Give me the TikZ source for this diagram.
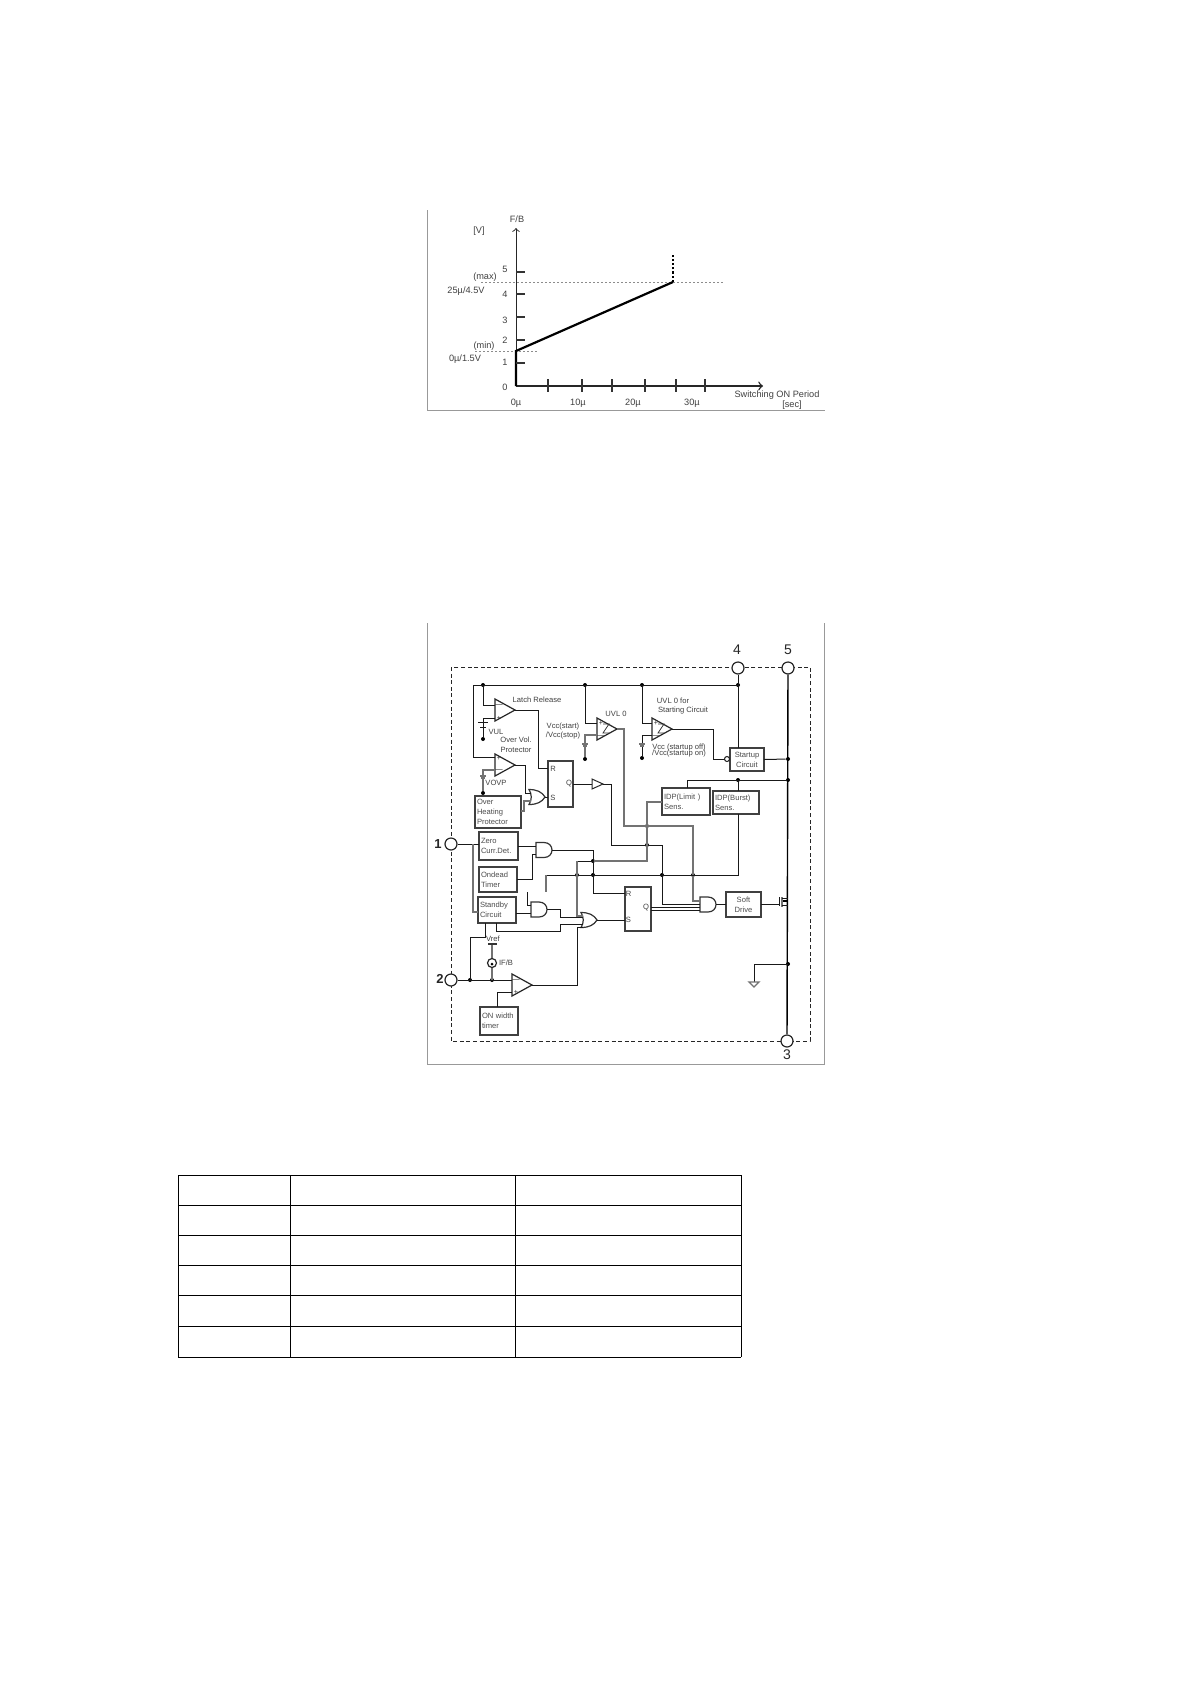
\documentclass[tikz,border=0pt]{standalone}
\usepackage{fontspec}
\setmainfont{Liberation Sans}
\usetikzlibrary{arrows}
\usetikzlibrary{shapes.geometric}

\begin{document}
\begin{tikzpicture}[x=.5pt,y=-.5pt,>=to,
                    wire/.style={line width=.5pt,black!90},
                    gwire/.style={line width=.65pt,black!55},
                    framed/.style={line width=.5pt,black!40},
                    lbl/.style={font=\fontsize{4.6}{5.4}\selectfont,text=black!75,inner sep=0pt},
                    tiny/.style={font=\fontsize{3.8}{5}\selectfont,text=black!75,inner sep=0pt,align=left},
                    pinnum/.style={font=\fontsize{7}{8}\selectfont,text=black!85,inner sep=0pt},
                    andgate/.pic={
                      \draw[line width=.6pt,black!80] (-16,-7.5) -- (-8,-7.5) .. controls (-3,-7.5) and (0,-4) .. (0,0)
                        .. controls (0,4) and (-3,7.5) .. (-8,7.5) -- (-16,7.5) -- cycle;
                      \coordinate (-in1) at (-16,-4);
                      \coordinate (-in2) at (-16,4);
                      \coordinate (-west) at (-16,0);
                      \coordinate (-out) at (0,0);},
                    orgate/.pic={
                      \draw[line width=.6pt,black!80] (-16,-7.5) .. controls (-8,-7.5) and (-3,-5) .. (0,0)
                        .. controls (-3,5) and (-8,7.5) .. (-16,7.5) .. controls (-13,3) and (-13,-3) .. (-16,-7.5) -- cycle;
                      \coordinate (-in1) at (-14.5,-4);
                      \coordinate (-in2) at (-14.5,4);
                      \coordinate (-west) at (-13.7,0);
                      \coordinate (-out) at (0,0);}]
  \tikzstyle{block}=[draw=black!75,line width=.7pt,rectangle,inner sep=1pt,outer sep=0pt,
                     align=left,font=\fontsize{3.8}{5}\selectfont,text=black!70]
  \tikzstyle{comp}=[draw=black!85,line width=.6pt,isosceles triangle,isosceles triangle stretches,
                    minimum width=11pt,minimum height=10pt,inner sep=0pt,outer sep=0pt,anchor=apex]
  \tikzstyle{pinc}=[draw=black!85,fill=white,line width=.6pt,circle,inner sep=0pt,minimum size=6pt]
  \tikzstyle{dot}=[fill=black,circle,inner sep=0pt,minimum size=2pt]

  \useasboundingbox (0,0) rectangle (1190,1682);
  \fill[white] (0,0) rectangle (1190,1682);

  % graph
  \coordinate (gfTL) at (427,210);
  \coordinate (gfBR) at (825,410);
  \draw[framed] (gfTL) |- (gfBR);

  \coordinate (orig) at (516,386);
  \coordinate (ytop) at (516,228);
  \coordinate (xend) at (763,386);
  \coordinate (cmin) at (516,351);
  \coordinate (cmax) at (673,282);
  \coordinate (ctop) at (673,253);
  \coordinate (hmaxL) at (481,282);
  \coordinate (hmaxR) at (725,282);
  \coordinate (hminL) at (475,351.5);
  \coordinate (hminR) at (537,351.5);
  \draw[->,line width=.45pt,black!85] (cmin) -- (ytop);
  \draw[->,line width=.7pt,black!85] (orig) -- (xend);
  \draw[dash pattern=on 1pt off 1pt,line width=.25pt,black!45] (hmaxL) -- (hmaxR);
  \draw[dash pattern=on 1pt off 1pt,line width=.25pt,black!45] (hminL) -- (hminR);
  \draw[line width=1.1pt] (orig) -- (cmin) -- (cmax);
  \draw[line width=1.1pt,densely dotted] (cmax) -- (ctop);
  \foreach \ty in {272,294,317,340,363} \draw[line width=.6pt,black!80] (516,\ty) -- (525,\ty);
  \foreach \tx in {548,582,612,645,676,705} \draw[line width=.6pt,black!80] (\tx,379) -- (\tx,392);

  \node[lbl] (fb)   at (517,219) {F/B};
  \node[lbl] (unit) at (479,231) {[V]};
  \foreach \nm/\ny in {5/269,4/294,3/320,2/340,1/362,0/387} \node[lbl] (y\nm) at (505,\ny) {\nm};
  \node[lbl] (hmax) at (485,277) {(max)};
  \node[lbl] (vmax) at (466,291) {25µ/4.5V};
  \node[lbl] (hmin) at (484,346) {(min)};
  \node[lbl] (vmin) at (465,359) {0µ/1.5V};
  \foreach \nm/\nx in {0/516,10/578,20/633,30/692} \node[lbl] (x\nm) at (\nx,403) {\nm µ};
  \node[lbl] (xname) at (777,395) {Switching ON Period};
  \node[lbl] (xunit) at (792,405) {[sec]};

  % block diagram, frame and dashed outline
  \coordinate (bfTL) at (427,623);
  \coordinate (bfBR) at (824,1064);
  \coordinate (bfTR) at (824,623);
  \draw[framed] (bfTL) |- (bfBR) -- (bfTR);
  \draw[dash pattern=on 2pt off 1.3pt,line width=.45pt,black!85] (451,667) rectangle (810,1041);

  \node[pinc] (pin4) at (738,668) {};
  \node[pinc] (pin5) at (788,668) {};
  \node[pinc] (pin1) at (451,844) {};
  \node[pinc] (pin2) at (451,980) {};
  \node[pinc] (pin3) at (787,1041) {};
  \node[pinnum] (num4) at (737,650) {4};
  \node[pinnum] (num5) at (788,650) {5};
  \node[pinnum,font=\fontsize{6.5}{8}\bfseries] (num1) at (438,844) {1};
  \node[pinnum,font=\fontsize{6.5}{8}\bfseries] (num2) at (440,979) {2};
  \node[pinnum] (num3) at (787,1055) {3};

  % blocks
  \node[block,minimum width=23pt,minimum height=16pt,text width=21pt]     (heat)    at (498,812)     {Over\\Heating\\Protector};
  \node[block,minimum width=19.5pt,minimum height=14pt,text width=17.5pt] (zero)    at (498.5,846)   {Zero\\Curr.Det.};
  \node[block,minimum width=19pt,minimum height=12.5pt,text width=17pt]   (ondead)  at (498,879.5)   {Ondead\\Timer};
  \node[block,minimum width=19pt,minimum height=13pt,text width=17pt]     (standby) at (497,910)     {Standby\\Circuit};
  \node[block,minimum width=19pt,minimum height=14pt,text width=17pt]     (onwidth) at (499,1021)    {ON width\\timer};
  \node[block,minimum width=17pt,minimum height=11.5pt,align=center]      (startup) at (747,759.5)   {Startup\\Circuit};
  \node[block,minimum width=24pt,minimum height=13.5pt,text width=22pt]   (limit)   at (686,801.5)   {IDP(Limit )\\Sens.};
  \node[block,minimum width=23pt,minimum height=11.5pt,text width=21pt]   (burst)   at (736,802.5)   {IDP(Burst)\\Sens.};
  \node[block,minimum width=17.5pt,minimum height=12.5pt,align=center]    (soft)    at (743.5,904.5) {Soft\\Drive};
  \node[block,minimum width=12.5pt,minimum height=23pt]                   (ffa)     at (560.5,784)   {};
  \node[block,minimum width=13pt,minimum height=22pt]                     (ffb)     at (638,909)     {};
  \node[tiny] (ffaR) at (553,769) {R};
  \node[tiny] (ffaS) at (553,798) {S};
  \node[tiny] (ffaQ) at (569,784) {Q};
  \node[tiny] (ffbR) at (628.5,894) {R};
  \node[tiny] (ffbS) at (628.5,920) {S};
  \node[tiny] (ffbQ) at (646,908) {Q};

  % comparators and gates
  \node[comp] (latch) at (515,710) {};
  \node[comp] (ovp)   at (515,765) {};
  \node[comp] (uvl)   at (617,729) {};
  \node[comp] (uvs)   at (672,729) {};
  \node[comp] (fbc)   at (532,985) {};
  \node[comp,minimum width=5pt,minimum height=5.5pt,line width=.5pt] (buf) at (603,784) {};
  \pic (ora)  at (545,797)   {orgate};
  \pic (orb)  at (597,920)   {orgate};
  \pic (anda) at (552,850)   {andgate};
  \pic (andb) at (547,909.5) {andgate};
  \pic (andc) at (716,904.5) {andgate};

  \foreach \sx/\sy/\st in {499/705/$-$,499/718/+,499/758/+,499/770/$-$,601/723/+,601/736/$-$,656/723/+,656/736/$-$,516/980/$-$,516/992/+}
    \node[font=\fontsize{3.5}{4}\selectfont,inner sep=0pt,text=black!80] at (\sx,\sy) {\st};
  \foreach \hx in {606,661} \draw[line width=.4pt,black!80] (\hx-3,724) -- (\hx+3,724) -- (\hx-3,733) -- (\hx+3,733);

  % junctions
  \node[dot] (ja) at (483,685) {};
  \node[dot] (jb) at (585,685) {};
  \node[dot] (jc) at (642,685) {};
  \node[dot] (jd) at (738,685) {};
  \node[dot] (je) at (788,759) {};
  \node[dot] (jf) at (738,780) {};
  \node[dot] (jg) at (788,780) {};
  \node[dot] (jh) at (788,964) {};
  \node[dot] (ji) at (647,826) {};
  \node[dot] (jj) at (647,845) {};
  \node[dot] (jk) at (593,861) {};
  \node[dot] (jl) at (577,875) {};
  \node[dot] (jm) at (593,875) {};
  \node[dot] (jn) at (662,875) {};
  \node[dot] (jo) at (693,875) {};
  \node[dot] (jp) at (470,980) {};
  \node[dot] (jq) at (492,980) {};
  \node[dot] (jr) at (483,739) {};
  \node[dot] (js) at (483,793) {};
  \node[dot] (jt) at (585,759) {};
  \node[dot] (ju) at (642,758) {};

  % wires of the upper half
  \coordinate (railL) at (473,685);
  \draw[wire] (495,757) -| (railL) -- (jd.center) -- (pin4);
  \draw[wire] (jd) -- (startup.north -| jd);
  \draw[line width=.7pt] (pin5) -- (pin3);
  \draw[wire] (495,705) -| (ja);
  \draw[wire] (495,718) -| (jr);
  \draw[gwire] (495,770) -| (js);
  \draw[wire] (597,723) -| (jb);
  \draw[gwire] (597,735) -| (jt);
  \draw[wire] (652,723) -| (jc);
  \draw[wire] (652,735) -| (ju);
  \draw[wire] (latch.apex) -| (538,768) -- (548,768);
  \draw[wire] (ovp.apex) -| (525,793) -- (ora-in1);
  \draw[gwire] (heat.east |- 0,811) -| (524,801) -- (ora-in2);
  \draw[wire] (ora-out) -- (548,797);
  \draw[wire] (ffa.east) -- (buf.lower side);
  \draw[wire] (buf.apex) -| (611,845) -- (jj.center) -| (662,904) -- (andc-west |- 0,904);
  \draw[gwire] (uvl.apex) -| (624,826) -- (ji.center) -- (693,826) -- (jo.center) |- (andc-west |- 0,901);
  \draw[wire] (uvs.apex) -| (713,759) -- (724.5,759);
  \draw[wire,fill=white,line width=.5pt] (727,759) circle[radius=2.5];
  \draw[wire] (startup.east) -- (je);
  \draw[wire] (limit.north -| 687,0) |- (jf.center) -- (jg);
  \draw[wire] (jf) -- (burst.north -| jf);
  \draw[wire] (burst.south -| 738,0) |- (jn.center) -- (jm.center);
  \draw[wire] (jm.center) -- (jl.center) -- (546,875);
  \draw[gwire] (546,875) -- (546,892);
  \draw[wire] (jn.center) -- (jo.center);
  \draw[gwire] (limit.west |- 0,802) -| (ji.center) -- (jj.center);
  \draw[gwire] (jj.center) |- (jk.center);
  \draw[wire] (jk.center) -- (577,861);
  \draw[gwire] (577,861) -- (jl.center) |- (orb-in1);

  % wires of the lower half
  \draw[wire] (pin1) -- (zero.west |- pin1);
  \draw[gwire] (473,844) |- (standby.west |- 0,912);
  \draw[wire] (zero.east |- anda-in1) -- (anda-in1);
  \draw[wire] (ondead.east |- 0,879) -| (532,854) |- (anda-in2);
  \draw[wire] (anda-out) -| (593,893) -- (625,893);
  \draw[wire] (standby.east |- andb-in2) -- (andb-in2);
  \coordinate (andin) at (527,892);
  \draw[wire] (andin) |- (andb-in1);
  \draw[wire] (andb-out) -| (560,917) -- (orb-west |- 0,917);
  \draw[wire] (496,923) |- (560,931) |- (orb-west |- 0,924);
  \draw[wire] (orb-out) -- (625,920);
  \draw[wire] (ffb.east |- 0,907) -- (andc-west |- 0,907);
  \draw[wire] (ffb.east |- 0,910) -- (andc-west |- 0,910);
  \draw[wire] (andc-out) -- (soft.west |- andc-out);
  \draw[wire] (pin2) -- (jp.center) -- (jq.center) -- (512,980);
  \draw[wire] (jp.center) |- (485,937) -- (485,923);
  \draw[gwire] (jq.center) -- (492,944);
  \draw[wire] (onwidth.north -| 497,0) |- (512,992);
  \draw[wire] (fbc.apex) -| (577,927) -- (583,927);
  \draw[wire] (jh.center) -| (754,982);
  \draw[gwire,fill=white] (749,982) -- (759,982) -- (754,987) -- cycle;

  % supply symbols
  \draw[wire] (478,722) -- (488,722);
  \draw[wire] (480,727) -- (486,727);
  \draw[line width=.8pt,black!80] (488,944) -- (497,944);
  \foreach \bx/\by in {483/777,585/745,642/745}
    {\draw[gwire] (\bx-3,\by-1) -- (\bx+3,\by-1);
     \draw[gwire] (\bx-2,\by+1) -- (\bx+2,\by+1);}
  \node[draw=black!85,fill=white,line width=.6pt,circle,inner sep=0pt,minimum size=4.5pt] (isrc) at (492,963) {};
  \node[dot,minimum size=1.5pt] (isrcm) at (492,964) {};
  \node[tiny] (vref) at (493,939) {Vref};
  \node[tiny] (ifb)  at (506,963) {IF/B};

  % mosfet
  \draw[wire] (soft.east) -- (779,904.5);
  \draw[wire] (779,897) -- (779,906);
  \draw[gwire] (782,897) -- (782,907);
  \draw[wire] (782,898) -- (788,898);
  \draw[wire] (782,905) -- (788,905);
  \draw[line width=1pt] (783,901) -- (788,901);

  % texts
  \node[tiny] (tlatch) at (537,700) {Latch Release};
  \node[tiny] (tvul)   at (496,732) {VUL};
  \node[tiny] (tover)  at (516,740) {Over Vol.};
  \node[tiny] (tprot)  at (516,750) {Protector};
  \node[tiny] (tvovp)  at (496,783) {VOVP};
  \node[tiny] (tuvla)  at (616,714) {UVL 0};
  \node[tiny] (tstart) at (563,727) {Vcc(start)};
  \node[tiny] (tstop)  at (563,736) {/Vcc(stop)};
  \node[tiny] (tuvlb)  at (673,701) {UVL 0 for};
  \node[tiny] (tscirc) at (683,711) {Starting Circuit};
  \node[tiny] (tsoff)  at (679,748) {Vcc (startup off)};
  \node[tiny] (tson)   at (679,754) {/Vcc(startup on)};

  % table
  \foreach \ty in {1175,1205,1235,1265,1295,1326,1357} \draw[line width=.45pt] (178,\ty) -- (741,\ty);
  \foreach \tx in {178,290,515,741} \draw[line width=.45pt] (\tx,1175) -- (\tx,1357);
\end{tikzpicture}
\end{document}
